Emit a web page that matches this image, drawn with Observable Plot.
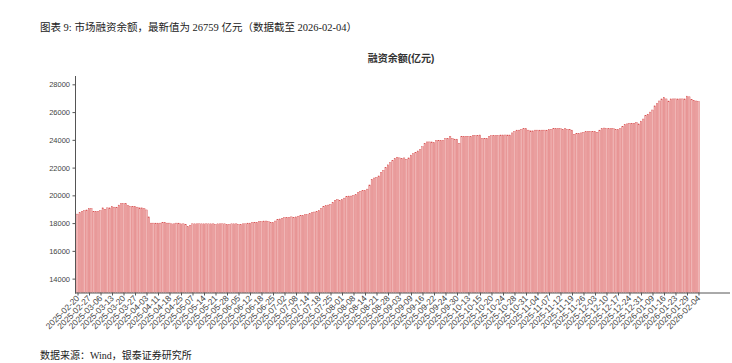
<!DOCTYPE html>
<html>
<head>
<meta charset="utf-8">
<script src="https://cdn.jsdelivr.net/npm/d3@7"></script>
<script src="https://cdn.jsdelivr.net/npm/@observablehq/plot@0.6"></script>
<style>
  html, body { margin: 0; padding: 0; background: #fff; }
  #wrap { position: relative; width: 732px; height: 363px; overflow: hidden; }
  .t { position: absolute; white-space: nowrap; color: #222; }
  #title { left: 40px; top: 19px; font-family: "Liberation Serif", "Noto Sans CJK SC", serif; font-size: 10.5px; }
  #ctitle { left: 0; width: 802px; text-align: center; top: 50px; font-family: "Liberation Sans", "Noto Sans CJK SC", sans-serif; font-size: 10px; font-weight: bold; color: #333; }
  #foot { left: 40px; top: 347px; font-family: "Liberation Serif", "Noto Sans CJK SC", serif; font-size: 10px; }
  svg { position: absolute; left: 0; top: 0; }
</style>
</head>
<body>
<div id="wrap">
  <div class="t" id="title">图表 9: 市场融资余额，最新值为 26759 亿元（数据截至 2026-02-04）</div>
  <div class="t" id="ctitle">融资余额(亿元)</div>
  <div class="t" id="foot">数据来源：Wind，银泰证券研究所</div>
</div>
<script>
const tickLabels = [
  "2025-02-20","2025-02-27","2025-03-06","2025-03-13","2025-03-20","2025-03-27","2025-04-03","2025-04-11","2025-04-18","2025-04-25",
  "2025-05-07","2025-05-14","2025-05-21","2025-05-28","2025-06-05","2025-06-12","2025-06-18","2025-06-25","2025-07-02","2025-07-08",
  "2025-07-14","2025-07-18","2025-07-25","2025-08-01","2025-08-08","2025-08-14","2025-08-21","2025-08-28","2025-09-03","2025-09-09",
  "2025-09-16","2025-09-22","2025-09-24","2025-09-30","2025-10-13","2025-10-15","2025-10-20","2025-10-24","2025-10-28","2025-10-31",
  "2025-11-04","2025-11-07","2025-11-12","2025-11-19","2025-11-26","2025-12-03","2025-12-10","2025-12-17","2025-12-24","2025-12-31",
  "2026-01-09","2026-01-16","2026-01-23","2026-01-29","2026-02-04"
];
const yTicks = [14000, 16000, 18000, 20000, 22000, 24000, 26000, 28000];
const balance = [
  18650,18750,18850,18900,18950, 19050,19050,18850,18850,18850, 18900,19100,19000,19100,19100,
  19200,19150,19150,19300,19400, 19400,19400,19250,19200,19200, 19200,19150,19100,19100,19050,
  18950,18450,18000,18000,18000, 18000,18000,18050,18050,18000, 18000,17950,17950,18000,18000,
  17950,17950,17900,17750,17850, 17950,17950,17950,17950,17950, 17950,17950,17950,17950,17950,
  17900,17950,17950,17950,17950, 17900,17900,17950,17950,17950, 17900,17900,17950,17950,18000,
  18000,18050,18050,18050,18100, 18100,18150,18150,18100,18050, 18050,18150,18250,18300,18350,
  18400,18400,18400,18450,18400, 18450,18500,18550,18550,18600, 18600,18700,18750,18800,18850,
  18900,19050,19200,19250,19300, 19350,19500,19650,19700,19650, 19700,19800,19900,19950,19950,
  20000,20050,20200,20300,20350, 20350,20450,20750,21150,21250, 21300,21400,21650,21800,22000,
  22200,22350,22500,22650,22750, 22700,22650,22700,22600,22700, 22900,23000,23100,23200,23300,
  23500,23750,23850,23850,23850, 23800,23950,23950,23950,23950, 24100,24100,24250,24100,24050,
  24050,23750,24250,24250,24250, 24250,24250,24300,24300,24300, 24350,24100,24100,24100,24250,
  24300,24300,24300,24300,24350, 24350,24350,24350,24350,24500, 24600,24700,24700,24750,24800,
  24800,24700,24650,24650,24700, 24700,24700,24700,24700,24700, 24750,24750,24800,24800,24800,
  24800,24750,24800,24750,24750, 24700,24400,24450,24450,24500, 24550,24600,24600,24600,24600,
  24600,24550,24700,24800,24850, 24800,24800,24800,24800,24750, 24750,24800,24950,25100,25150,
  25200,25200,25200,25250,25150, 25350,25500,25750,25850,26000, 26150,26450,26600,26800,26950,
  27050,26950,26800,26950,26950, 26950,26950,26950,26950,26950, 27150,27100,26900,26850,26800,
  26759
];

const data = balance.map((v, i) => ({i, v}));
const chart = Plot.plot({
  width: 732,
  height: 363,
  marginTop: 76,
  marginBottom: 70.5,
  marginLeft: 75,
  marginRight: 2,
  x: {type: "band", domain: d3.range(balance.length), range: [76, 700], padding: 0.32},
  y: {domain: [13000, 28600]},
  style: {fontFamily: "'Liberation Sans', Arial, sans-serif", fontSize: "7.5px", color: "#444", background: "transparent"},
  marks: [
    Plot.barY(data, {x: "i", y1: 13000, y2: "v", fill: "#f0b5b5", stroke: "#d85252", strokeWidth: 0.4}),
    Plot.axisY({ticks: yTicks, tickSize: 2.5, tickPadding: 3, tickFormat: d => String(d), label: null, stroke: "#555"}),
    Plot.axisX({ticks: d3.range(0, balance.length, 5), tickFormat: i => tickLabels[i / 5], tickRotate: -45, tickSize: 3, tickPadding: 1, label: null, stroke: "#555", fontSize: "8.5px"}),
    Plot.ruleY([13000], {stroke: "#555", strokeWidth: 1}),
    Plot.frame({anchor: "left", stroke: "#555"})
  ]
});
document.getElementById("wrap").appendChild(chart);
</script>
</body>
</html>
